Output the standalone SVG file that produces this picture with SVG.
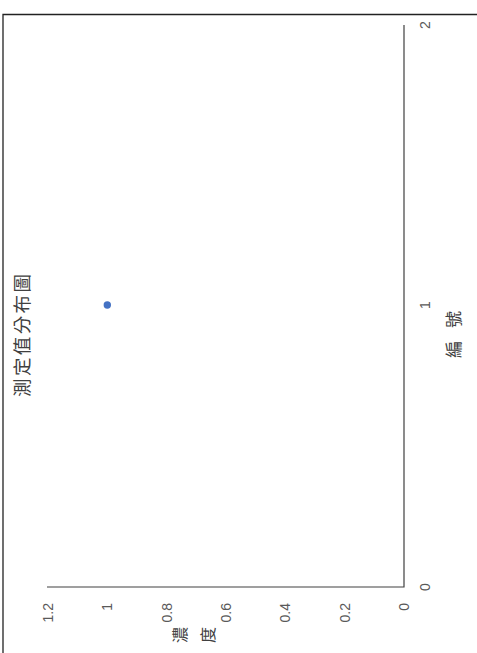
<svg xmlns="http://www.w3.org/2000/svg" width="477" height="653" viewBox="0 0 477 653">
<style>
.tick{font-family:"Liberation Sans",Arial,sans-serif;font-size:14px;fill:#595959}
.cjk{font-family:"Noto Sans CJK TC","Noto Sans CJK SC",sans-serif;fill:#404040}
.axis{stroke:#404040;stroke-width:1.2;fill:none}
</style>
<rect width="477" height="653" fill="#ffffff"/>
<g id="border"><path d="M3,653 V14.5 H477" fill="none" stroke="#222" stroke-width="1.3"/></g>
<g id="title"><text class="cjk" font-size="18.5" letter-spacing="2.4" transform="translate(21,397) rotate(-90)" dominant-baseline="central">測定值分布圖</text></g>
<g id="connectors">
<path class="axis" d="M47,587 H404 V25"/>
</g>
<g id="value-labels">
<text class="tick" text-anchor="end" dominant-baseline="central" transform="translate(48,603) rotate(-90)">1.2</text>
<text class="tick" text-anchor="end" dominant-baseline="central" transform="translate(107.3,603) rotate(-90)">1</text>
<text class="tick" text-anchor="end" dominant-baseline="central" transform="translate(166.7,603) rotate(-90)">0.8</text>
<text class="tick" text-anchor="end" dominant-baseline="central" transform="translate(226,603) rotate(-90)">0.6</text>
<text class="tick" text-anchor="end" dominant-baseline="central" transform="translate(285.3,603) rotate(-90)">0.4</text>
<text class="tick" text-anchor="end" dominant-baseline="central" transform="translate(344.7,603) rotate(-90)">0.2</text>
<text class="tick" text-anchor="end" dominant-baseline="central" transform="translate(404,603) rotate(-90)">0</text>
</g>
<g id="index-labels">
<text class="tick" text-anchor="middle" dominant-baseline="central" transform="translate(425,587) rotate(-90)">0</text>
<text class="tick" text-anchor="middle" dominant-baseline="central" transform="translate(425,305) rotate(-90)">1</text>
<text class="tick" text-anchor="middle" dominant-baseline="central" transform="translate(425,25) rotate(-90)">2</text>
</g>
<g id="x-title"><text class="cjk" font-size="17" letter-spacing="13" transform="translate(452,358) rotate(-90)" dominant-baseline="central">編號</text></g>
<g id="y-title">
<text class="cjk" font-size="16" text-anchor="middle" dominant-baseline="central" transform="translate(179,635) rotate(-90)">濃</text>
<text class="cjk" font-size="16" text-anchor="middle" dominant-baseline="central" transform="translate(207,635) rotate(-90)">度</text>
</g>
<g id="point"><circle cx="107.3" cy="305" r="3.7" fill="#4472C4"/></g>
</svg>
